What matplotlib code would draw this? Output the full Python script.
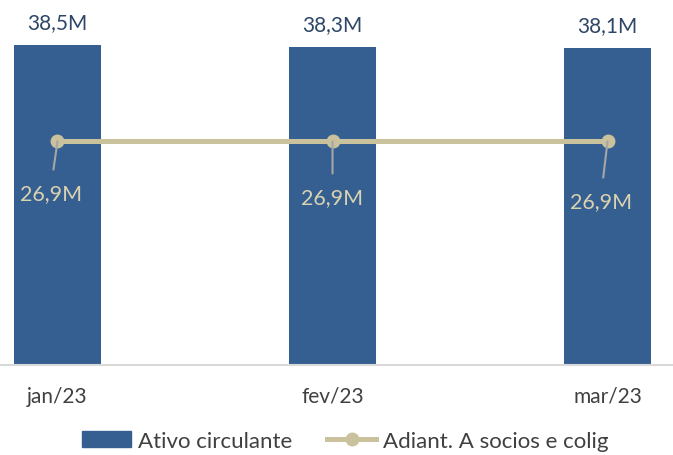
import numpy as np
import matplotlib.pyplot as plt
from matplotlib.patches import Patch
from matplotlib.lines import Line2D

plt.rcParams['font.family'] = ['Lato', 'DejaVu Sans']

meses = ['jan/23', 'fev/23', 'mar/23']
ativo = [38.5, 38.3, 38.1]
adiant = [26.9, 26.9, 26.9]
ativo_lbl = ['38,5M', '38,3M', '38,1M']
adiant_lbl = ['26,9M', '26,9M', '26,9M']

azul = '#365F91'
bege = '#C9C29D'

fig = plt.figure(figsize=(6.73, 4.56), dpi=100)
ax = fig.add_axes([0, 90/456, 1, 366/456])

x = np.arange(len(meses))
ax.bar(x, ativo, width=0.316, color=azul, zorder=2)
ax.plot(x, adiant, color=bege, lw=3.6, marker='o', ms=9, zorder=3)

for i, v in enumerate(ativo):
    ax.annotate(ativo_lbl[i], (i, v), xytext=(0, 13), textcoords='offset pixels',
                ha='center', va='bottom', fontsize=15, color='#2E4766')

offs = [(-6, -52), (0, -56), (-6, -60)]
for i, v in enumerate(adiant):
    ax.annotate(adiant_lbl[i], (i, v), xytext=offs[i], textcoords='offset pixels',
                ha='center', va='center', fontsize=15.5, color='#D8D2B0', zorder=4,
                arrowprops=dict(arrowstyle='-', color='#A6A6A6', lw=1.5,
                                relpos=(0.5, 1.0), shrinkA=8, shrinkB=0))

ax.set_xlim(-0.209, 2.238)
ax.set_ylim(0, 44.03)
ax.set_xticks(x)
ax.set_xticklabels(meses, fontsize=15, color='#404040')
ax.tick_params(axis='x', length=0, pad=15)
ax.set_yticks([])
for s in ['top', 'left', 'right']:
    ax.spines[s].set_visible(False)
ax.spines['bottom'].set_color('#D9D9D9')
ax.spines['bottom'].set_linewidth(1.5)

handles = [Patch(color=azul),
           Line2D([0], [0], color=bege, lw=3.6, marker='o', ms=9)]
fig.legend(handles, ['Ativo circulante', 'Adiant. A socios e colig'],
           loc='center', bbox_to_anchor=(0.513, 1 - 442/456), ncol=2, frameon=False,
           fontsize=16, labelcolor='#404040', handlelength=2.2, handletextpad=0.3,
           columnspacing=1.6, borderpad=0.1)

plt.savefig('out.png', dpi=100)
